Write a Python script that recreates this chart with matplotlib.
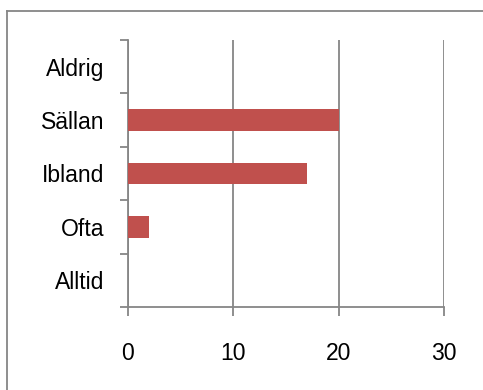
import matplotlib
matplotlib.use("Agg")
import matplotlib.pyplot as plt
from matplotlib.lines import Line2D

categories = ["Alltid", "Ofta", "Ibland", "Sällan", "Aldrig"]  # bottom -> top
values = [0, 2, 17, 20, 0]
xticks = [0, 10, 20, 30]

BAR = "#C0504D"
GRID = "#868686"

plt.rcParams["font.family"] = ["Liberation Sans", "DejaVu Sans"]

fig = plt.figure(figsize=(4.83, 3.90), dpi=100)
fig.patch.set_facecolor("white")

# outer chart-area border (only top and left visible in crop)
fig.add_artist(Line2D([7 / 483, 7 / 483], [0, 1 - 11 / 390], color=GRID, lw=1.3,
                      transform=fig.transFigure))
fig.add_artist(Line2D([7 / 483, 1], [1 - 11 / 390, 1 - 11 / 390], color=GRID, lw=1.3,
                      transform=fig.transFigure))

ax = fig.add_axes([128 / 483, 83 / 390, 316 / 483, 267 / 390])
y = range(len(categories))
ax.barh(y, values, height=0.4, color=BAR, zorder=3)

ax.set_xlim(0, 30)
ax.set_ylim(-0.5, len(categories) - 0.5)
ax.set_xticks(xticks)
ax.set_xticklabels([str(v) for v in xticks], fontsize=16.5)
ax.set_yticks(list(y))
ax.set_yticklabels(categories, fontsize=16.5)
ax.set_yticks([i - 0.5 for i in range(len(categories) + 1)], minor=True)

ax.tick_params(axis="y", which="major", length=0, pad=17)
ax.tick_params(axis="y", which="minor", length=6, width=1.3, color=GRID)
ax.tick_params(axis="x", which="major", length=6.5, width=1.3, color=GRID, pad=18.5)

ax.grid(axis="x", color=GRID, linewidth=1.3, zorder=0)
for s in ("top", "right"):
    ax.spines[s].set_visible(False)
for s in ("left", "bottom"):
    ax.spines[s].set_color(GRID)
    ax.spines[s].set_linewidth(1.3)

fig.savefig("out.png", dpi=100)
